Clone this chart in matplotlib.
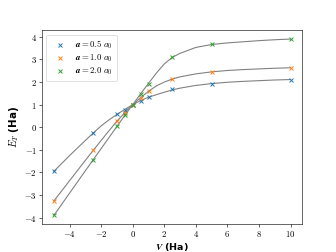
import matplotlib
matplotlib.use("Agg")
import matplotlib.pyplot as plt
from matplotlib.ticker import FuncFormatter

plt.rcParams['mathtext.fontset'] = 'cm'

# Measured points
V = [-5, -2.5, -1, -0.5, 0, 0.5, 1, 2.5, 5, 10]
E_a05 = [-1.95, -0.25, 0.58, 0.78, 1.0, 1.17, 1.34, 1.67, 1.93, 2.11]
E_a10 = [-3.26, -1.02, 0.27, 0.65, 1.0, 1.30, 1.59, 2.13, 2.45, 2.63]
E_a20 = [-3.90, -1.43, 0.04, 0.53, 1.0, 1.49, 1.93, 3.09, 3.66, 3.90]
labels = [r'$\boldsymbol{a = 0.5\ a_0}$', r'$\boldsymbol{a = 1.0\ a_0}$', r'$\boldsymbol{a = 2.0\ a_0}$']

# Gray fit curves
V_fit = [-5, -4, -3, -2.5, -2, -1.5, -1, -0.5, 0, 0.5, 1, 1.5, 2, 2.5, 3, 4, 5, 6, 7, 8, 9, 10]
fit_a05 = [-1.95, -1.25, -0.58, -0.25, 0.06, 0.33, 0.57, 0.79, 1.0, 1.18, 1.33, 1.44, 1.55, 1.65,
           1.73, 1.85, 1.93, 1.99, 2.03, 2.06, 2.09, 2.11]
fit_a10 = [-3.26, -2.36, -1.46, -1.02, -0.58, -0.15, 0.27, 0.65, 1.0, 1.31, 1.59, 1.83, 2.00, 2.13,
           2.23, 2.36, 2.45, 2.51, 2.55, 2.58, 2.61, 2.63]
fit_a20 = [-3.90, -2.91, -1.92, -1.43, -0.94, -0.45, 0.04, 0.53, 1.0, 1.48, 1.94, 2.40, 2.80, 3.09,
           3.27, 3.53, 3.66, 3.73, 3.78, 3.83, 3.87, 3.90]

fig, ax = plt.subplots(figsize=(6.4, 4.8), dpi=52.5)

for fit in (fit_a05, fit_a10, fit_a20):
    ax.plot(V_fit, fit, color='gray', lw=1.5, zorder=1)

colors = ['tab:blue', 'tab:orange', 'tab:green']
for E, c, lab in zip((E_a05, E_a10, E_a20), colors, labels):
    ax.plot(V, E, 'x', color=c, label=lab, ms=6.5, mew=1.3, zorder=3)

fmt = FuncFormatter(lambda v, p: r'$\boldsymbol{%g}$' % v)
ax.xaxis.set_major_formatter(fmt)
ax.yaxis.set_major_formatter(fmt)
ax.tick_params(labelsize=12)

ax.set_xlabel(r'$\boldsymbol{V}$ (Ha)', fontsize=13, fontweight='bold', labelpad=2)
ax.set_ylabel(r'$\boldsymbol{E_T}$ (Ha)', fontsize=14, fontweight='bold')
ax.legend(loc='upper left', fontsize=12, labelspacing=0.15, borderpad=0.5)

fig.savefig('out.png', dpi=52.5)
